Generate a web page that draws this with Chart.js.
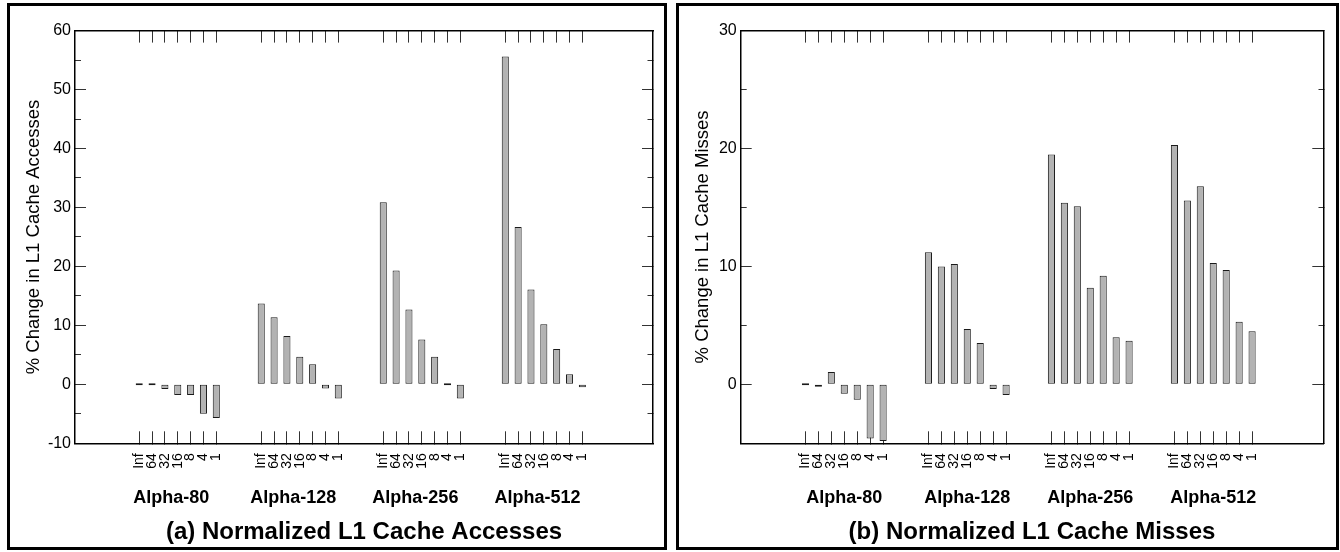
<!DOCTYPE html>
<html>
<head>
<meta charset="utf-8">
<script src="https://cdn.jsdelivr.net/npm/chart.js@4.4.1/dist/chart.umd.min.js"></script>
<style>
  html, body { margin: 0; padding: 0; background: #fff; }
  body { width: 1340px; height: 552px; position: relative; overflow: hidden; }
  .panel { position: absolute; top: 3px; height: 547px; border: 3px solid #000; box-sizing: border-box; }
  #panelA { left: 7px; width: 660px; }
  #panelB { left: 676px; width: 663px; }
  .panel canvas { display: block; }
</style>
</head>
<body>
<div class="panel" id="panelA"><canvas id="chartA" width="654" height="541"></canvas></div>
<div class="panel" id="panelB"><canvas id="chartB" width="657" height="541"></canvas></div>
<script>
// bar labels inside each group and the group names
const sizes = ['Inf', '64', '32', '16', '8', '4', '1'];
const groups = ['Alpha-80', 'Alpha-128', 'Alpha-256', 'Alpha-512'];

// (a) % change in L1 cache accesses
const accesses80 = [0, 0, -0.8, -1.8, -1.8, -5.0, -5.7];
const accesses128 = [13.7, 11.4, 8.2, 4.7, 3.4, -0.7, -2.4];
const accesses256 = [30.9, 19.3, 12.7, 7.6, 4.7, 0, -2.4];
const accesses512 = [55.6, 26.7, 16.1, 10.2, 6.0, 1.7, -0.5];

// (b) % change in L1 cache misses
const misses80 = [0, -0.2, 1.05, -0.8, -1.3, -4.6, -4.8];
const misses128 = [11.2, 10.0, 10.2, 4.7, 3.5, -0.4, -0.9];
const misses256 = [19.5, 15.4, 15.1, 8.2, 9.2, 4.0, 3.7];
const misses512 = [20.3, 15.6, 16.8, 10.3, 9.7, 5.3, 4.5];

// one slot per bar, groups are 9.5 slots apart
const GROUP_STEP = 9.5;
const X_MIN = -5;
const X_MAX = 40;
const TICK = '#333';

Chart.defaults.font.family = '"Liberation Sans", Arial, Helvetica, sans-serif';
Chart.defaults.color = '#000';

function drawPanel(canvasId, series, opts) {
    const points = [];
    const barTicks = [];
    series.forEach((vals, g) => {
        vals.forEach((v, i) => {
            const x = g * GROUP_STEP + i;
            points.push({ x: x, y: v });
            barTicks.push(x);
        });
    });
    const groupTicks = groups.map((_, g) => g * GROUP_STEP + opts.groupLabelAt);

    const border = { color: '#000', width: 1.5 };
    const setBarTicks = s => { s.ticks = barTicks.map(v => ({ value: v })); };

    new Chart(document.getElementById(canvasId), {
        type: 'bar',
        data: {
            datasets: [{
                data: points,
                xAxisID: 'x',
                yAxisID: 'y',
                backgroundColor: '#b3b3b3',
                borderColor: '#1a1a1a',
                borderWidth: 1,
                borderSkipped: false,
                barPercentage: 0.55,
                categoryPercentage: 1,
                minBarLength: 2
            }]
        },
        options: {
            responsive: false,
            animation: false,
            events: [],
            layout: { padding: { left: 10, right: opts.rightPad, top: 18, bottom: 0 } },
            plugins: {
                legend: { display: false },
                tooltip: { enabled: false },
                title: {
                    display: true,
                    position: 'bottom',
                    fullSize: false,
                    text: opts.title,
                    color: '#000',
                    font: { size: 24, weight: 'bold' },
                    padding: { top: 9.4, bottom: 0 }
                }
            },
            scales: {
                x: {
                    type: 'linear', position: 'bottom', weight: 0,
                    min: X_MIN, max: X_MAX, offset: false,
                    afterBuildTicks: setBarTicks,
                    afterFit: s => { s.height = 26; },
                    grid: { drawOnChartArea: false, offset: false, tickLength: -12, tickColor: TICK },
                    border: border,
                    ticks: {
                        autoSkip: false, minRotation: 90, maxRotation: 90, padding: 22,
                        font: { size: 14 },
                        callback: (v, i) => sizes[i % sizes.length]
                    }
                },
                xTop: {
                    type: 'linear', position: 'top',
                    min: X_MIN, max: X_MAX, offset: false,
                    afterBuildTicks: setBarTicks,
                    afterFit: s => { s.height = 0; },
                    grid: { drawOnChartArea: false, offset: false, tickLength: -12, tickColor: TICK },
                    border: border,
                    ticks: { display: false }
                },
                xGroup: {
                    type: 'linear', position: 'bottom', weight: 1,
                    min: X_MIN, max: X_MAX, offset: false,
                    afterBuildTicks: s => { s.ticks = groupTicks.map(v => ({ value: v })); },
                    afterFit: s => { s.height = 39.5; },
                    grid: { display: false, drawTicks: false },
                    border: { display: false },
                    ticks: {
                        autoSkip: false, maxRotation: 0, padding: 18,
                        font: { size: 18, weight: 'bold' },
                        callback: (v, i) => groups[i]
                    }
                },
                y: {
                    position: 'left',
                    min: opts.yMin, max: opts.yMax,
                    afterFit: s => { s.width = opts.yWidth; },
                    grid: {
                        drawOnChartArea: false, tickLength: -11, tickColor: TICK,
                        tickBorderDash: ctx => ctx.tick.value % 10 === 0 ? [] : [0, 5, 7, 100]
                    },
                    border: border,
                    ticks: {
                        stepSize: 5, padding: 15,
                        font: { size: 16 },
                        callback: v => v % 10 === 0 ? v : ''
                    },
                    title: {
                        display: true, text: opts.yTitle, color: '#000',
                        font: { size: 18.5 },
                        padding: { top: 3, bottom: 0 }
                    }
                },
                yRight: {
                    position: 'right',
                    min: opts.yMin, max: opts.yMax,
                    afterFit: s => { s.width = 0; },
                    grid: {
                        drawOnChartArea: false, tickLength: -11, tickColor: TICK,
                        tickBorderDash: ctx => ctx.tick.value % 10 === 0 ? [] : [6, 100]
                    },
                    border: border,
                    ticks: { display: false, stepSize: 5 }
                }
            }
        }
    });
}

drawPanel('chartA', [accesses80, accesses128, accesses256, accesses512], {
    yMin: -10, yMax: 60, yWidth: 55, rightPad: 11, groupLabelAt: 2.5,
    yTitle: '% Change in L1 Cache Accesses',
    title: '(a) Normalized L1 Cache Accesses'
});

drawPanel('chartB', [misses80, misses128, misses256, misses512], {
    yMin: -5, yMax: 30, yWidth: 51.7, rightPad: 12.7, groupLabelAt: 3,
    yTitle: '% Change in L1 Cache Misses',
    title: '(b) Normalized L1 Cache Misses'
});
</script>
</body>
</html>
